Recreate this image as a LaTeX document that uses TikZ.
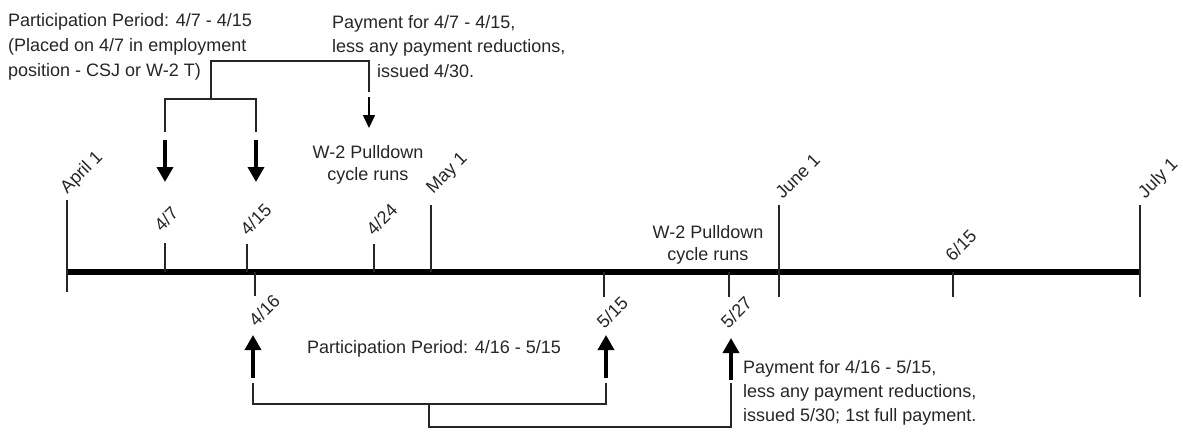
\documentclass[tikz,border=0pt]{standalone}
\usepackage{fontspec}
\setmainfont{Liberation Sans}
\usetikzlibrary{arrows.meta}
\begin{document}
\begin{tikzpicture}[x=1pt,y=-1pt,
  txt/.style={font=\fontsize{18}{25}\selectfont, text=black!85, inner sep=0pt},
  rlab/.style={txt, rotate=45, anchor=south west},
  blab/.style={txt, rotate=45, anchor=north east},
  tickline/.style={line width=1.5pt, draw=black!85},
  axisline/.style={line width=5.5pt},
  brk/.style={line width=1.6pt, draw=black!85},
  bigarrow/.style={line width=3.5pt, -{Triangle[width=16pt,length=15pt]}},
  smallarrow/.style={line width=1.6pt, -{Triangle[width=12pt,length=13pt]}}]
\useasboundingbox (0,0) rectangle (1183,432);

% axis
\coordinate (ax0) at (67,272);
\coordinate (ax1) at (1140,272);
\draw[axisline] (ax0) -- (ax1);

% ticks
\coordinate (apr1t) at (67,200);   \coordinate (apr1b) at (67,292);
\coordinate (d47t) at (165,243);   \coordinate (d47b) at (165,272);
\coordinate (d415t) at (247,244);  \coordinate (d415b) at (247,272);
\coordinate (d416t) at (255,272);  \coordinate (d416b) at (255,296);
\coordinate (d424t) at (374,244);  \coordinate (d424b) at (374,272);
\coordinate (may1t) at (431,205);  \coordinate (may1b) at (431,272);
\coordinate (d515t) at (604,272);  \coordinate (d515b) at (604,297);
\coordinate (d527t) at (729,272);  \coordinate (d527b) at (729,297);
\coordinate (jun1t) at (779,205);  \coordinate (jun1b) at (779,297);
\coordinate (d615t) at (953,272);  \coordinate (d615b) at (953,297);
\coordinate (jul1t) at (1140,205); \coordinate (jul1b) at (1140,297);
\foreach \n in {apr1,d47,d415,d416,d424,may1,d515,d527,jun1,d615,jul1}
  \draw[tickline] (\n t) -- (\n b);

% tick labels above
\node[rlab] (lapr1) at (70,197) {April 1};
\node[rlab] (l47) at (162,233) {4/7};
\node[rlab] (l415) at (248,237) {4/15};
\node[rlab] (l424) at (374,237) {4/24};
\node[rlab] (lmay1) at (436,197) {May 1};
\node[rlab] (ljun1) at (783,200) {June 1};
\node[rlab] (l615) at (953,263) {6/15};
\node[rlab] (ljul1) at (1148,202) {July 1};
% tick labels below
\node[blab] (l416) at (272,293) {4/16};
\node[blab] (l515) at (620,295) {5/15};
\node[blab] (l527) at (744,295) {5/27};

% top texts
\node[txt, anchor=north west, align=left] (pp1) at (8,13.5)
  {Participation Period: 4/7 - 4/15\\(Placed on 4/7 in employment\\position - CSJ or W-2 T)};
\node[txt, font=\fontsize{18}{24.5}\selectfont, anchor=north west, align=left] (pay1) at (332,15)
  {Payment for 4/7 - 4/15,\\less any payment reductions,\\\hspace*{45pt}issued 4/30.};
\node[txt, font=\fontsize{18}{22}\selectfont, align=center] (pd1) at (368,165)
  {W-2 Pulldown\\cycle runs};
\node[txt, font=\fontsize{18}{22}\selectfont, align=center] (pd2) at (708,245)
  {W-2 Pulldown\\cycle runs};

% bottom texts
\node[txt] (pp2) at (434,349) {Participation Period: 4/16 - 5/15};
\node[txt, font=\fontsize{18}{24}\selectfont, anchor=north west, align=left] (pay2) at (743,360.5)
  {Payment for 4/16 - 5/15,\\less any payment reductions,\\issued 5/30; 1st full payment.};

% top bracket
\coordinate (ba) at (165,132);
\coordinate (bb) at (256,132);
\coordinate (bj) at (211,99);
\coordinate (bs) at (211,61);
\coordinate (bp) at (369,92);
\draw[brk] (ba) |- (bj) -| (bb);
\draw[brk] (bj) -- (bs) -| (bp);
% top arrows
\coordinate (a1s) at (165,140); \coordinate (a1e) at (165,182);
\coordinate (a2s) at (256,140); \coordinate (a2e) at (256,182);
\coordinate (a3s) at (369,97);  \coordinate (a3e) at (369,128);
\draw[bigarrow] (a1s) -- (a1e);
\draw[bigarrow] (a2s) -- (a2e);
\draw[smallarrow] (a3s) -- (a3e);

% bottom bracket
\coordinate (ca) at (253,383);
\coordinate (cb) at (606,383);
\coordinate (cj) at (429,404);
\coordinate (cs) at (429,427);
\coordinate (cp) at (731,383);
\draw[brk] (ca) |- (cj) -| (cb);
\draw[brk] (cj) -- (cs) -| (cp);
% bottom arrows
\coordinate (b1s) at (253,378); \coordinate (b1e) at (253,335);
\coordinate (b2s) at (606,378); \coordinate (b2e) at (606,335);
\coordinate (b3s) at (731,380); \coordinate (b3e) at (731,338);
\draw[bigarrow] (b1s) -- (b1e);
\draw[bigarrow] (b2s) -- (b2e);
\draw[bigarrow] (b3s) -- (b3e);
\end{tikzpicture}
\end{document}
